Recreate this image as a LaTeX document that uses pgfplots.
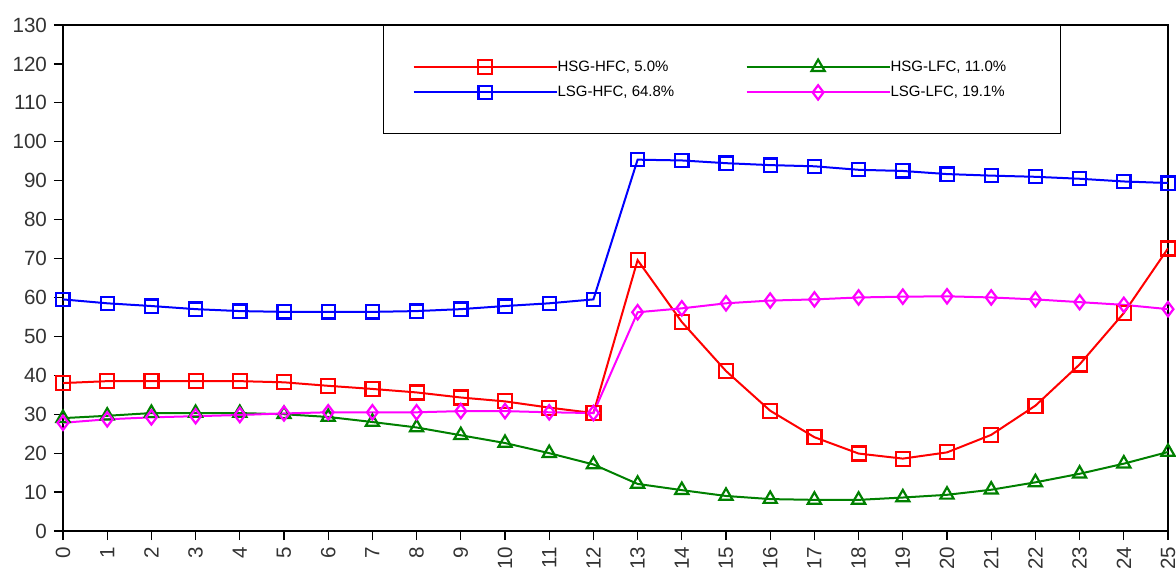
\documentclass[border=0pt]{standalone}
\usepackage{pgfplots}
\pgfplotsset{compat=1.18}
\usepackage{fontspec}
\setmainfont{Liberation Sans}
\definecolor{cgreen}{RGB}{0,128,0}
\definecolor{cred}{RGB}{255,0,0}
\definecolor{cblue}{RGB}{0,0,255}
\definecolor{cmag}{RGB}{255,0,255}
\pgfdeclareplotmark{rsquare}{%
  \pgfsetcornersarced{\pgfpoint{2.3pt}{2.3pt}}%
  \pgfpathrectanglecorners{\pgfpoint{-\pgfplotmarksize}{-\pgfplotmarksize}}{\pgfpoint{\pgfplotmarksize}{\pgfplotmarksize}}%
  \pgfusepathqstroke}
\begin{document}
\begin{tikzpicture}
\path[use as bounding box] (-31.5pt,-18.5pt) rectangle (556.5pt,265.5pt);
\begin{axis}[
 at={(0,0)}, anchor=south west,
 scale only axis, width=552.5pt, height=253pt,
 xmin=0, xmax=25, ymin=0, ymax=130,
 xtick={0,1,...,25}, ytick={0,10,...,130},
 tick align=outside, major tick length=4.5pt,
 xtick pos=bottom, ytick pos=left,
 xticklabel style={rotate=90, anchor=east},
 tick label style={font=\fontsize{10.3}{12}\selectfont, text=black!80},
 /pgf/number format/assume math mode=true,
 axis line style={line width=0.6pt},
 every tick/.style={black, line width=0.6pt},
 legend columns=2,
 legend style={at={(0.2896,1)}, anchor=north west, draw=black, line width=0.6pt,
   fill=white, font=\fontsize{7.5}{9}\selectfont, column sep=0pt, row sep=5.5pt,
   inner xsep=14.5pt, inner ysep=17pt, nodes={inner sep=0pt, text height=5.5pt, text depth=1.5pt}},
 legend cell align=left,
 legend image code/.code={\draw[mark repeat=2,mark phase=2] plot coordinates {(0pt,0pt) (35.75pt,0pt) (71.5pt,0pt)};},
]
\addplot[cred, line width=1pt, mark=rsquare, mark size=3.5pt, mark options={line width=1.1pt}] coordinates {
(0,38.0) (1,38.5) (2,38.5) (3,38.5) (4,38.5) (5,38.2) (6,37.3) (7,36.5) (8,35.6) (9,34.3)
(10,33.3) (11,31.7) (12,30.3) (13,69.6) (14,53.7) (15,41.1) (16,30.9) (17,24.1) (18,19.9)
(19,18.6) (20,20.2) (21,24.7) (22,32.2) (23,42.8) (24,56.0) (25,72.6)};
\addlegendentry{\makebox[94pt][l]{HSG-HFC, 5.0\%}}
\addplot[cgreen, line width=1pt, mark=triangle, mark size=3.8pt, mark options={line width=1.1pt}] coordinates {
(0,29.0) (1,29.6) (2,30.3) (3,30.3) (4,30.3) (5,30.0) (6,29.3) (7,28.0) (8,26.6) (9,24.6)
(10,22.6) (11,20.0) (12,17.1) (13,12.1) (14,10.5) (15,9.0) (16,8.2) (17,8.0) (18,8.0)
(19,8.6) (20,9.3) (21,10.6) (22,12.5) (23,14.7) (24,17.3) (25,20.3)};
\addlegendentry{\makebox[70.5pt][l]{HSG-LFC, 11.0\%}}
\addplot[cblue, line width=1pt, mark=square, mark size=3.3pt, mark options={line width=1.1pt}] coordinates {
(0,59.5) (1,58.5) (2,57.8) (3,57.0) (4,56.5) (5,56.3) (6,56.3) (7,56.3) (8,56.5) (9,57.0)
(10,57.8) (11,58.5) (12,59.5) (13,95.4) (14,95.2) (15,94.5) (16,94.0) (17,93.7) (18,92.8)
(19,92.5) (20,91.7) (21,91.3) (22,91.0) (23,90.5) (24,89.8) (25,89.4)};
\addlegendentry{\makebox[94pt][l]{LSG-HFC, 64.8\%}}
\addplot[cmag, line width=1pt, mark=diamond, mark size=3.6pt, mark options={line width=1.1pt}] coordinates {
(0,27.8) (1,28.7) (2,29.2) (3,29.5) (4,29.8) (5,30.2) (6,30.5) (7,30.5) (8,30.5) (9,30.8)
(10,30.8) (11,30.5) (12,30.3) (13,56.2) (14,57.2) (15,58.5) (16,59.2) (17,59.5) (18,60.0)
(19,60.2) (20,60.3) (21,60.0) (22,59.5) (23,58.8) (24,58.1) (25,57.0)};
\addlegendentry{\makebox[70.5pt][l]{LSG-LFC, 19.1\%}}
\end{axis}
\end{tikzpicture}
\end{document}
